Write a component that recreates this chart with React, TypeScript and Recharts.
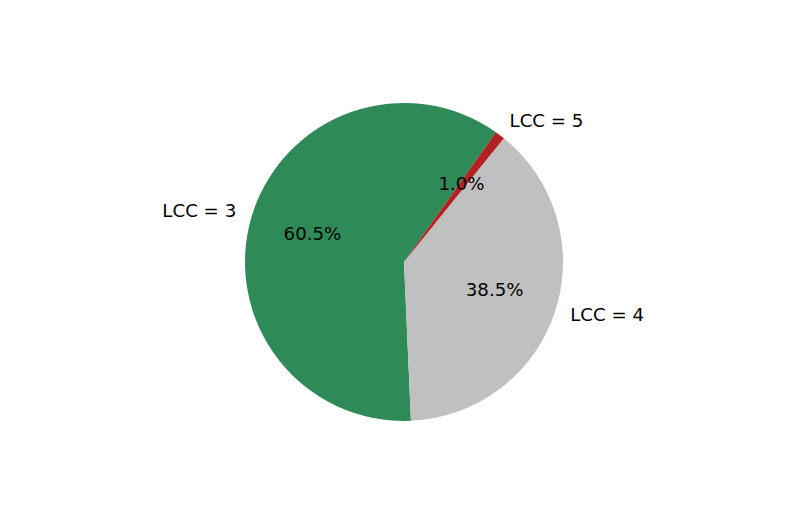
import { Cell, Pie, PieChart } from "recharts";

const categories = ["LCC = 3", "LCC = 4", "LCC = 5"];
const shares = [60.5, 38.5, 1.0];
const colors = ["#2e8b57", "#c0c0c0", "#b22222"];

const data = categories.map((name, i) => ({ name, value: shares[i] }));

const RAD = Math.PI / 180;
const FONT = "DejaVu Sans, sans-serif";
const FS = 18.2;

function renderLabel(props: any) {
  const { cx, cy, midAngle, outerRadius, percent, name } = props;
  const cos = Math.cos(-midAngle * RAD);
  const sin = Math.sin(-midAngle * RAD);
  const lx = cx + outerRadius * 1.1 * cos;
  const ly = cy + outerRadius * 1.1 * sin - 2;
  const px = cx + outerRadius * 0.6 * cos;
  const py = cy + outerRadius * 0.6 * sin - 2;
  return (
    <g>
      <text
        x={lx}
        y={ly}
        textAnchor={cos > 0 ? "start" : "end"}
        dominantBaseline="central"
        fill="#000"
        style={{ fontSize: FS, fontFamily: FONT }}
      >
        {name}
      </text>
      <text
        x={px}
        y={py}
        textAnchor="middle"
        dominantBaseline="central"
        fill="#000"
        style={{ fontSize: FS, fontFamily: FONT }}
      >
        {(percent * 100).toFixed(1) + "%"}
      </text>
    </g>
  );
}

export default function App() {
  return (
    <div style={{ position: "absolute", left: 0, top: 0, width: 789, height: 526, background: "#fff" }}>
      <PieChart width={789} height={526} margin={{ top: 0, right: 0, bottom: 0, left: 0 }}>
        <Pie
          data={data}
          dataKey="value"
          nameKey="name"
          cx={404}
          cy={262}
          outerRadius={159}
          startAngle={54.7}
          endAngle={414.7}
          stroke="none"
          labelLine={false}
          label={renderLabel}
          isAnimationActive={false}
        >
          {data.map((d, i) => (
            <Cell key={d.name} fill={colors[i]} />
          ))}
        </Pie>
      </PieChart>
    </div>
  );
}
